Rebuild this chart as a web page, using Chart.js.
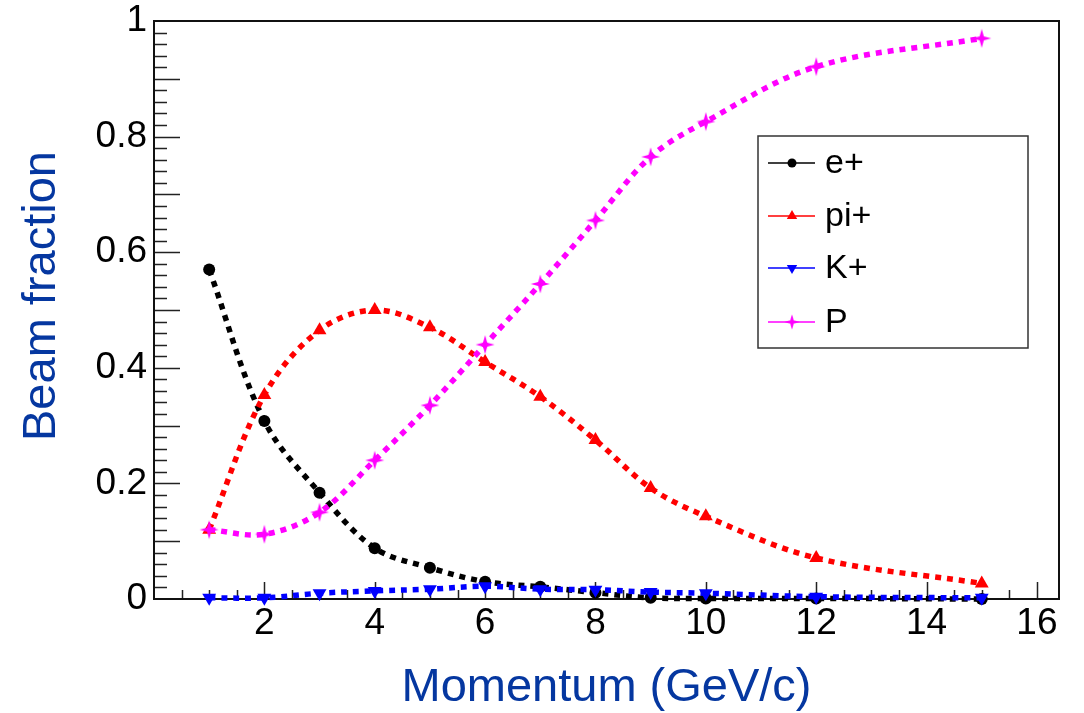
<!DOCTYPE html>
<html>
<head>
<meta charset="utf-8">
<script src="https://cdn.jsdelivr.net/npm/chart.js@4.4.1/dist/chart.umd.min.js"></script>
<style>
html, body { margin: 0; padding: 0; background: #fff; }
#wrap { width: 1084px; height: 713px; }
</style>
</head>
<body>
<div id="wrap"><canvas id="beamChart" width="1084" height="713"></canvas></div>
<script>
// momentum points (GeV/c) and beam fractions per particle
const momentum = [1, 2, 3, 4, 5, 6, 7, 8, 9, 10, 12, 15];
const ePlus  = [0.57, 0.308, 0.184, 0.088, 0.054, 0.03, 0.021, 0.011, 0.002, 0.001, 0.001, 0.0];
const piPlus = [0.12, 0.353, 0.465, 0.5, 0.47, 0.41, 0.35, 0.275, 0.192, 0.143, 0.071, 0.027];
const kPlus  = [0.002, 0.002, 0.01, 0.014, 0.017, 0.022, 0.017, 0.016, 0.012, 0.01, 0.004, 0.002];
const proton = [0.12, 0.112, 0.15, 0.24, 0.335, 0.44, 0.545, 0.655, 0.765, 0.826, 0.921, 0.97];

const FONT = '"Liberation Sans", Arial, Helvetica, sans-serif';
const TITLE_BLUE = '#0537a0';

// 4-point star marker like ROOT's
function starMarker(color, size) {
    const c = document.createElement('canvas');
    c.width = size; c.height = size;
    const g = c.getContext('2d');
    const m = size / 2, ro = size / 2 - 0.5, ri = size * 0.15;
    g.fillStyle = color;
    g.beginPath();
    for (let i = 0; i < 8; i++) {
        const a = -Math.PI / 2 + i * Math.PI / 4;
        const r = i % 2 === 0 ? ro : ri;
        const px = m + Math.cos(a) * r, py = m + Math.sin(a) * r;
        if (i === 0) g.moveTo(px, py); else g.lineTo(px, py);
    }
    g.closePath();
    g.fill();
    return c;
}
const star = starMarker('#ff00ff', 20);

function series(label, values, color, style, radius, rotation, order) {
    return {
        label: label,
        data: momentum.map((m, i) => ({ x: m, y: values[i] })),
        borderColor: color,
        backgroundColor: color,
        borderWidth: 5.5,
        borderDash: [6, 6],
        borderCapStyle: 'butt',
        tension: 0.35,
        pointStyle: style,
        pointRadius: radius,
        pointRotation: rotation,
        pointBorderWidth: 0,
        pointBackgroundColor: color,
        clip: false,
        order: order
    };
}

// frame + inward ticks + rotated y title
const frameAndTicks = {
    id: 'frameAndTicks',
    beforeDatasetsDraw(chart) {
        const { ctx, chartArea: a, scales: { x, y } } = chart;
        ctx.save();
        ctx.strokeStyle = '#222';
        ctx.lineWidth = 1.5;
        ctx.beginPath();
        for (let i = 1; i <= 32; i++) {
            const px = Math.round(x.getPixelForValue(i / 2)) + 0.5;
            const len = i % 4 === 0 ? 17 : 9;
            ctx.moveTo(px, a.bottom);
            ctx.lineTo(px, a.bottom - len);
        }
        for (let i = 1; i < 50; i++) {
            const py = Math.round(y.getPixelForValue(i / 50)) + 0.5;
            const len = i % 5 === 0 ? 26 : 13;
            ctx.moveTo(a.left, py);
            ctx.lineTo(a.left + len, py);
        }
        ctx.stroke();
        ctx.lineWidth = 2;
        ctx.strokeStyle = '#111';
        ctx.strokeRect(a.left, a.top, a.right - a.left, a.bottom - a.top);

        ctx.translate(42, 296);
        ctx.rotate(-Math.PI / 2);
        ctx.fillStyle = TITLE_BLUE;
        ctx.font = '47px ' + FONT;
        ctx.textAlign = 'center';
        ctx.textBaseline = 'middle';
        ctx.fillText('Beam fraction', 0, 0);
        ctx.restore();
    }
};

// boxed legend inside the plot
const boxLegend = {
    id: 'boxLegend',
    afterDraw(chart) {
        const ctx = chart.ctx;
        const box = { x: 758, y: 136, w: 270, h: 212 };
        const rows = [163, 216, 268, 322];
        ctx.save();
        ctx.fillStyle = '#fff';
        ctx.fillRect(box.x, box.y, box.w, box.h);
        ctx.strokeStyle = '#333';
        ctx.lineWidth = 1.5;
        ctx.strokeRect(box.x, box.y, box.w, box.h);
        chart.data.datasets.forEach((ds, i) => {
            const ry = rows[i];
            ctx.strokeStyle = ds.borderColor;
            ctx.lineWidth = 1.5;
            ctx.setLineDash([]);
            ctx.beginPath();
            ctx.moveTo(768, ry);
            ctx.lineTo(815, ry);
            ctx.stroke();
            const opts = {
                pointStyle: ds.pointStyle,
                radius: ds.pointStyle === 'circle' ? 4.5 : 6,
                rotation: ds.pointRotation || 0,
                borderWidth: 0
            };
            ctx.fillStyle = ds.backgroundColor;
            ctx.strokeStyle = ds.borderColor;
            if (ds.pointStyle instanceof HTMLCanvasElement) {
                ctx.drawImage(ds.pointStyle, 792 - 8, ry - 8, 16, 16);
            } else {
                Chart.helpers.drawPoint(ctx, opts, 792, ry);
            }
            ctx.fillStyle = '#000';
            ctx.font = '34px ' + FONT;
            ctx.textBaseline = 'middle';
            ctx.textAlign = 'left';
            ctx.fillText(ds.label, 825, ry + 1);
        });
        ctx.restore();
    }
};

new Chart(document.getElementById('beamChart'), {
    type: 'line',
    data: {
        datasets: [
            series('e+', ePlus, '#000000', 'circle', 6, 0, 4),
            series('pi+', piPlus, '#ff0000', 'triangle', 8, 0, 3),
            series('K+', kPlus, '#0000ff', 'triangle', 8, 180, 2),
            series('P', proton, '#ff00ff', star, 10, 0, 1)
        ]
    },
    options: {
        responsive: false,
        animation: false,
        layout: { padding: { top: 21, right: 25, left: 0, bottom: 0 } },
        plugins: {
            legend: { display: false },
            tooltip: { enabled: false }
        },
        scales: {
            x: {
                type: 'linear',
                min: 0,
                max: 16.4,
                afterFit: (s) => { s.height = 114; s.paddingLeft = 0; s.paddingRight = 0; },
                grid: { display: false, drawTicks: false },
                border: { display: false },
                ticks: {
                    stepSize: 2,
                    includeBounds: false,
                    maxRotation: 0,
                    padding: 3,
                    color: '#000',
                    font: { family: FONT, size: 37 },
                    callback: (v) => (v === 0 ? '' : v)
                },
                title: {
                    display: true,
                    text: 'Momentum (GeV/c)',
                    color: TITLE_BLUE,
                    font: { family: FONT, size: 47, lineHeight: 1 },
                    padding: { top: 0, bottom: 1 }
                }
            },
            y: {
                min: 0,
                max: 1,
                afterFit: (s) => { s.width = 154; s.paddingTop = 0; s.paddingBottom = 0; },
                grid: { display: false, drawTicks: false },
                border: { display: false },
                ticks: {
                    stepSize: 0.2,
                    padding: 7,
                    color: '#000',
                    font: { family: FONT, size: 37 },
                    callback: (v) => String(Math.round(v * 10) / 10)
                },
                title: { display: false }
            }
        }
    },
    plugins: [frameAndTicks, boxLegend]
});
</script>
</body>
</html>
